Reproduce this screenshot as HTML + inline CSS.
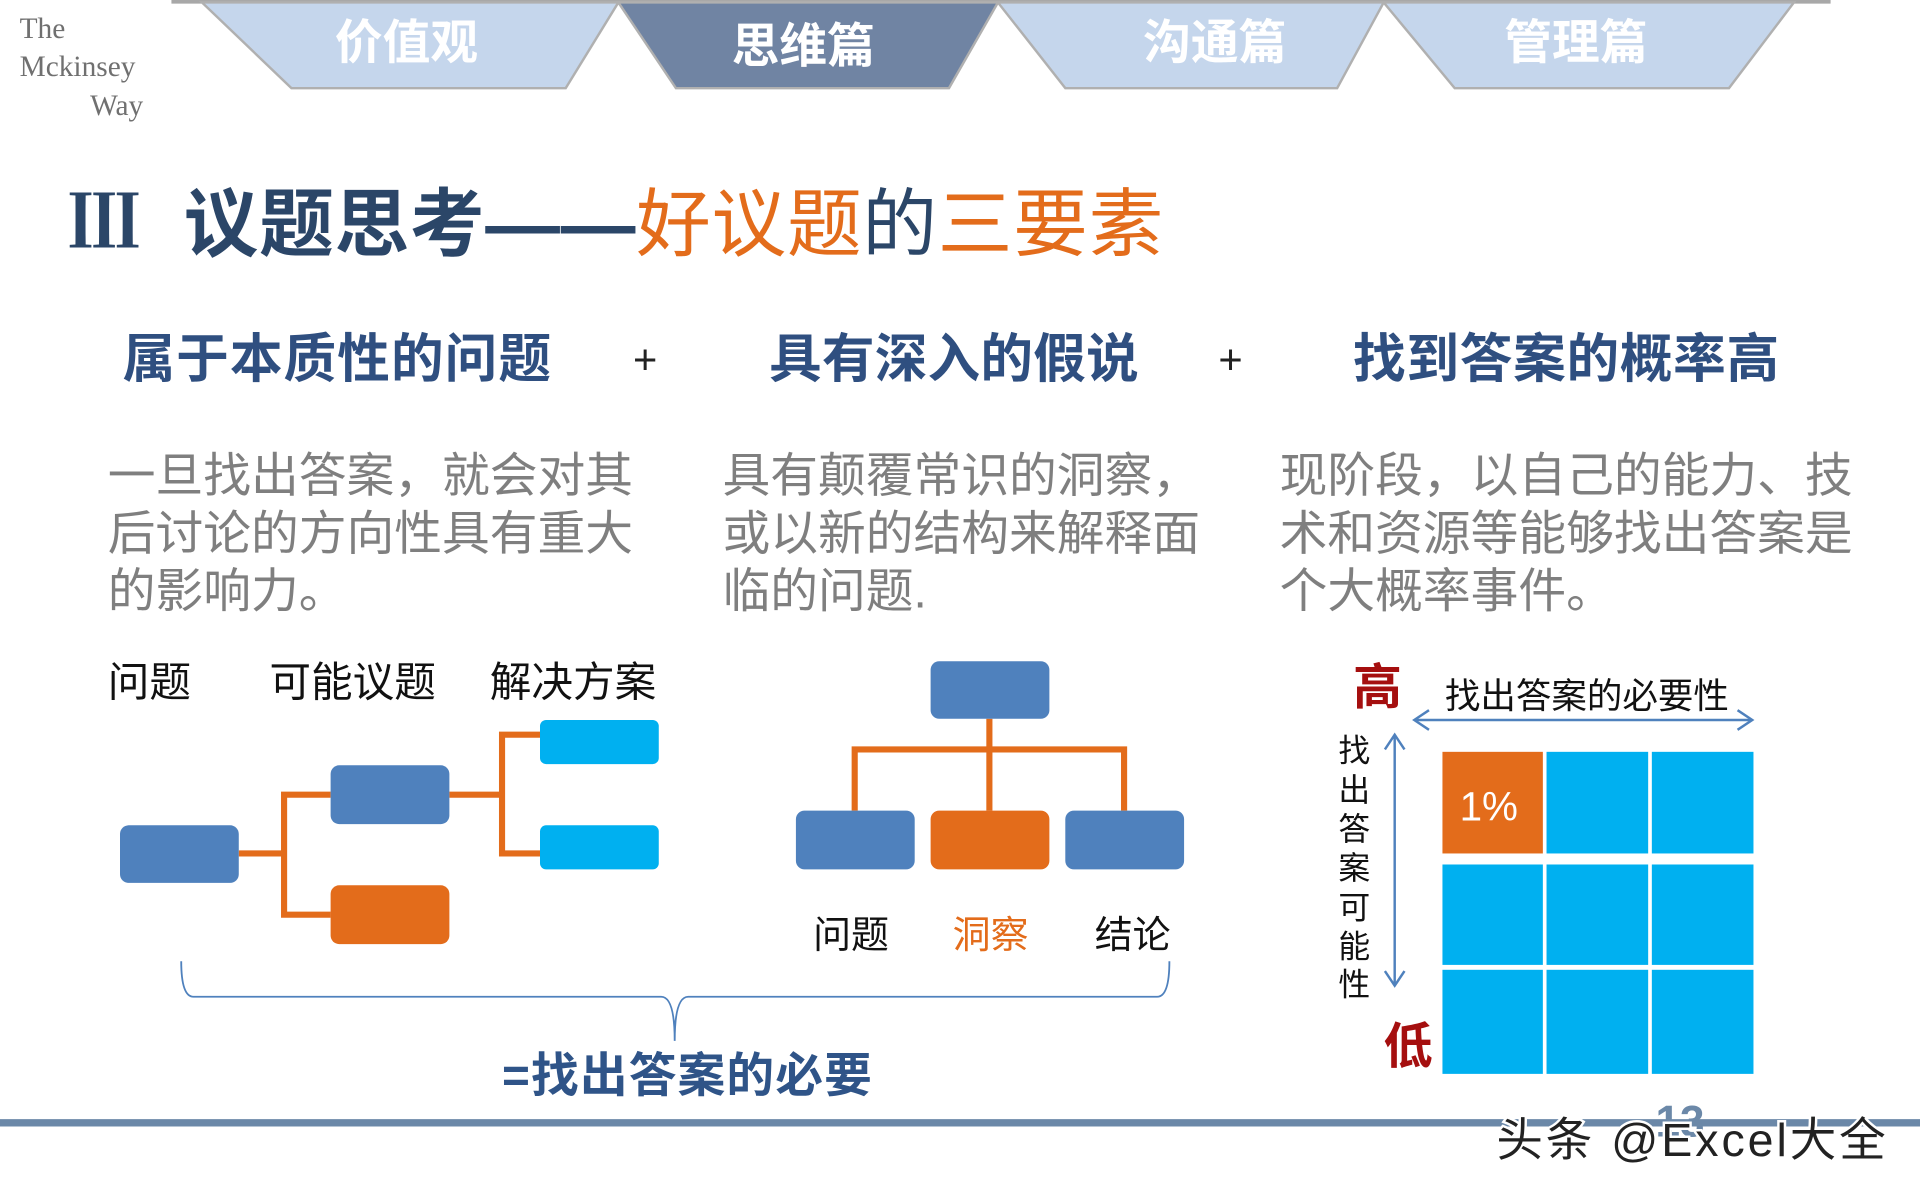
<!DOCTYPE html>
<html><head><meta charset="utf-8"><style>
html,body{margin:0;padding:0;background:#fff;width:1920px;height:1200px;overflow:hidden}
svg{display:block}
text{font-family:"Liberation Sans","Noto Sans CJK SC",sans-serif}
.s{font-family:"Liberation Serif","Noto Serif CJK SC",serif}
</style></head><body>
<svg width="1920" height="1200" viewBox="0 0 1568 980" xmlns="http://www.w3.org/2000/svg">
<line x1="140" y1="1.5" x2="1495" y2="1.5" stroke="#a8a8a8" stroke-width="3"/>
<polygon points="165,2 505,2 462,72 238,72" fill="#c5d6ec" stroke="#b0b0b0" stroke-width="2"/>
<polygon points="505,2 815,2 775,72 552,72" fill="#7084a3" stroke="#b0b0b0" stroke-width="2"/>
<polygon points="815,2 1130,2 1092,72 870,72" fill="#c5d6ec" stroke="#b0b0b0" stroke-width="2"/>
<polygon points="1130,2 1465,2 1412,72 1188,72" fill="#c5d6ec" stroke="#b0b0b0" stroke-width="2"/>
<g fill="#fff" font-weight="bold" font-size="39" text-anchor="middle">
<text x="332" y="48">价值观</text><text x="656" y="51">思维篇</text><text x="992" y="48">沟通篇</text><text x="1287" y="48">管理篇</text></g>
<g class="s" fill="#707070" font-size="24">
<text class="s" x="16" y="31">The</text><text class="s" x="16" y="62">Mckinsey</text><text class="s" x="117" y="94" text-anchor="end">Way</text></g>
<text class="s" x="55" y="202" font-size="60" font-weight="bold" fill="#2b4668">Ⅲ</text>
<text x="150" y="204" font-size="61" fill="#2b4668" textLength="800" lengthAdjust="spacing"><tspan font-weight="bold">议题思考——</tspan><tspan fill="#e36c1b">好议题</tspan><tspan>的</tspan><tspan fill="#e36c1b">三要素</tspan></text>
<g font-size="43" font-weight="bold" fill="#2f4f80">
<text x="100" y="308" textLength="350">属于本质性的问题</text><text x="628" y="308" textLength="302">具有深入的假说</text><text x="1105" y="308" textLength="348">找到答案的概率高</text></g>
<g font-size="34" fill="#222"><text x="517" y="305">+</text><text x="995" y="305">+</text></g>
<g font-size="39" fill="#7f7f7f">
<text x="88" y="402">一旦找出答案，就会对其</text><text x="88" y="449">后讨论的方向性具有重大</text><text x="88" y="496">的影响力。</text>
<text x="590" y="402">具有颠覆常识的洞察，</text><text x="590" y="449">或以新的结构来解释面</text><text x="590" y="496">临的问题.</text>
<text x="1045" y="402">现阶段，以自己的能力、技</text><text x="1045" y="449">术和资源等能够找出答案是</text><text x="1045" y="496">个大概率事件。</text></g>
<g font-size="34" fill="#111"><text x="88" y="569">问题</text><text x="220" y="569">可能议题</text><text x="400" y="569">解决方案</text></g>
<g stroke="#e36c1b" stroke-width="5" fill="none">
<polyline points="195,697 232,697"/><polyline points="270,649 232,649 232,747 270,747"/>
<polyline points="367,649 410,649"/><polyline points="441,600 410,600 410,697 441,697"/>
<line x1="808" y1="587" x2="808" y2="662"/><polyline points="698,662 698,612 918,612 918,662"/></g>
<g>
<rect x="98" y="674" width="97" height="47" rx="7" fill="#4f81bd"/>
<rect x="270" y="625" width="97" height="48" rx="7" fill="#4f81bd"/>
<rect x="270" y="723" width="97" height="48" rx="7" fill="#e36c1b"/>
<rect x="441" y="588" width="97" height="36" rx="5" fill="#00b0f0"/>
<rect x="441" y="674" width="97" height="36" rx="5" fill="#00b0f0"/>
<rect x="760" y="540" width="97" height="47" rx="7" fill="#4f81bd"/>
<rect x="650" y="662" width="97" height="48" rx="7" fill="#4f81bd"/>
<rect x="760" y="662" width="97" height="48" rx="7" fill="#e36c1b"/>
<rect x="870" y="662" width="97" height="48" rx="7" fill="#4f81bd"/></g>
<g font-size="31" text-anchor="middle"><text x="695" y="774" fill="#111">问题</text><text x="809" y="774" fill="#e36c1b">洞察</text><text x="925" y="774" fill="#111">结论</text></g>
<path d="M148,785 Q148,814 158,814 L540,814 Q551,814 551,850 Q551,814 562,814 L945,814 Q955,814 955,785" fill="none" stroke="#4f81bd" stroke-width="1.5"/>
<text x="410" y="892" font-size="39" font-weight="bold" fill="#2f5488" textLength="302">=找出答案的必要</text>
<g font-weight="bold" font-size="40" fill="#a50f0f"><text x="1105" y="575">高</text><text x="1130" y="868">低</text></g>
<text x="1180" y="578" font-size="29" fill="#111">找出答案的必要性</text>
<g stroke="#4f81bd" stroke-width="2" fill="none">
<line x1="1155" y1="588" x2="1431" y2="588"/><polyline points="1167,580 1155,588 1167,596"/><polyline points="1419,580 1431,588 1419,596"/>
<line x1="1139" y1="600" x2="1139" y2="805"/><polyline points="1131,612 1139,600 1147,612"/><polyline points="1131,793 1139,805 1147,793"/></g>
<g font-size="26" fill="#111" text-anchor="middle">
<text x="1106" y="622">找</text><text x="1106" y="654">出</text><text x="1106" y="686">答</text><text x="1106" y="718">案</text><text x="1106" y="750">可</text><text x="1106" y="782">能</text><text x="1106" y="813">性</text></g>
<g fill="#00b0f0">
<rect x="1178" y="614" width="82" height="83" fill="#e36c1b"/><rect x="1263" y="614" width="83" height="83"/><rect x="1349" y="614" width="83" height="83"/>
<rect x="1178" y="706" width="82" height="82"/><rect x="1263" y="706" width="83" height="82"/><rect x="1349" y="706" width="83" height="82"/>
<rect x="1178" y="792" width="82" height="85"/><rect x="1263" y="792" width="83" height="85"/><rect x="1349" y="792" width="83" height="85"/></g>
<text x="1192" y="670" font-size="33" fill="#fff">1%</text>
<line x1="0" y1="917" x2="1568" y2="917" stroke="#6b88a8" stroke-width="6"/>
<text x="1352" y="928" font-size="36" font-weight="bold" fill="#6b88a8">13</text>
<text x="1222" y="944" font-size="38" fill="#222" stroke="#fff" stroke-width="4" paint-order="stroke" textLength="318">头条 @Excel大全</text>
</svg>
</body></html>
